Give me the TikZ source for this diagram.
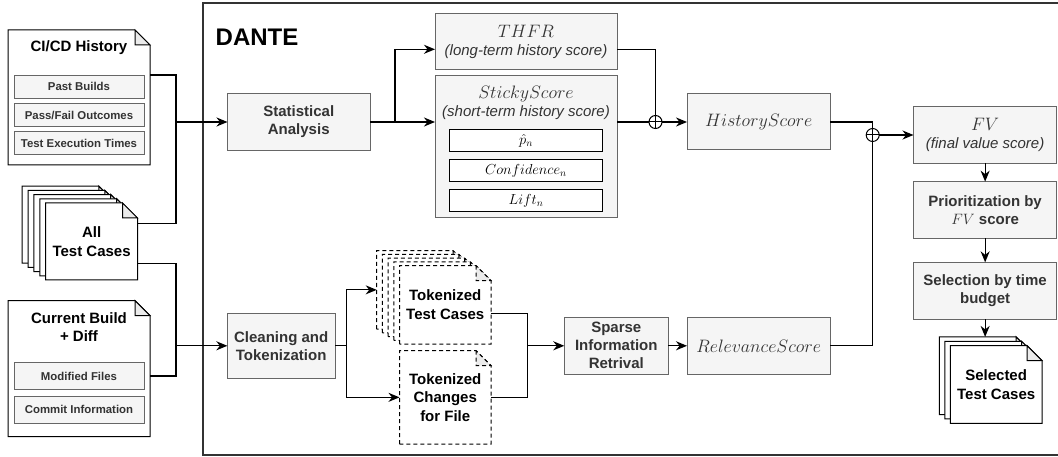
\RequirePackage{fix-cm}
\documentclass[tikz,border=0pt]{standalone}
\usepackage[no-math]{fontspec}
\setmainfont{Liberation Sans}
\usepackage{tikz}
\usetikzlibrary{arrows.meta}

\definecolor{panelgray}{HTML}{F5F5F5}
\definecolor{edgegray}{HTML}{666666}
\definecolor{inkgray}{HTML}{333333}
\definecolor{foldgray}{HTML}{EBEBEB}

% a sheet of paper with its top right corner folded over
\def\foldsz{15pt}
\makeatletter
\pgfdeclareshape{docsheet}{
  \inheritsavedanchors[from=rectangle]
  \inheritanchorborder[from=rectangle]
  \inheritanchor[from=rectangle]{center}
  \inheritanchor[from=rectangle]{north}
  \inheritanchor[from=rectangle]{south}
  \inheritanchor[from=rectangle]{east}
  \inheritanchor[from=rectangle]{west}
  \inheritanchor[from=rectangle]{north east}
  \inheritanchor[from=rectangle]{north west}
  \inheritanchor[from=rectangle]{south east}
  \inheritanchor[from=rectangle]{south west}
  \backgroundpath{
    \southwest \pgf@xa=\pgf@x \pgf@ya=\pgf@y
    \northeast \pgf@xb=\pgf@x \pgf@yb=\pgf@y
    \pgf@xc=\pgf@xb \advance\pgf@xc by -\foldsz
    \pgf@yc=\pgf@yb \advance\pgf@yc by -\foldsz
    \pgfpathmoveto{\pgfqpoint{\pgf@xa}{\pgf@ya}}
    \pgfpathlineto{\pgfqpoint{\pgf@xa}{\pgf@yb}}
    \pgfpathlineto{\pgfqpoint{\pgf@xc}{\pgf@yb}}
    \pgfpathlineto{\pgfqpoint{\pgf@xb}{\pgf@yc}}
    \pgfpathlineto{\pgfqpoint{\pgf@xb}{\pgf@ya}}
    \pgfpathclose
  }
  \beforeforegroundpath{
    \pgfscope
    \northeast \pgf@xb=\pgf@x \pgf@yb=\pgf@y
    \pgf@xc=\pgf@xb \advance\pgf@xc by -\foldsz
    \pgf@yc=\pgf@yb \advance\pgf@yc by -\foldsz
    \pgfpathmoveto{\pgfqpoint{\pgf@xc}{\pgf@yb}}
    \pgfpathlineto{\pgfqpoint{\pgf@xc}{\pgf@yc}}
    \pgfpathlineto{\pgfqpoint{\pgf@xb}{\pgf@yc}}
    \pgfpathclose
    \pgfsetfillcolor{foldgray}
    \pgfusepath{fill,stroke}
    \endpgfscope
  }
}
\makeatother

\tikzstyle{stage} = [rectangle, draw=edgegray, fill=panelgray, text=inkgray, line width=1pt, outer sep=0pt, inner sep=2pt, align=center, font=\bfseries\fontsize{15}{18}\selectfont]
\tikzstyle{score} = [stage, font=\fontsize{15}{18}\selectfont]
\tikzstyle{field} = [rectangle, draw=edgegray, fill=panelgray, text=inkgray, line width=1pt, inner sep=0pt, minimum width=130pt, font=\bfseries\fontsize{11.4}{13}\selectfont]
\tikzstyle{metric} = [rectangle, draw=black, fill=white, line width=1pt, inner sep=0pt, minimum width=153pt, minimum height=22.5pt, font=\fontsize{14.5}{17}\selectfont]
\tikzstyle{sheet} = [shape=docsheet, draw=black, fill=white, line width=1pt, outer sep=0pt, align=center, font=\bfseries\fontsize{15}{18.5}\selectfont]
\tikzstyle{tokensheet} = [sheet, dash pattern=on 4pt off 3pt]
\tikzstyle{sum} = [circle, draw=black, fill=white, line width=1pt, minimum size=13pt, inner sep=0pt, outer sep=0pt,
  path picture={\draw[line width=1pt] (path picture bounding box.north) -- (path picture bounding box.south)
    (path picture bounding box.west) -- (path picture bounding box.east);}]
\tikzstyle{wire} = [line width=1.3pt]
\tikzstyle{arrow} = [line width=1.3pt, ->, >={Stealth[length=11pt, width=9pt, inset=3.5pt]}]
\newcommand{\scoremath}[1]{{\fontsize{18}{21}\selectfont$#1$}}

\begin{document}
\begin{tikzpicture}[x=1pt, y=-1pt]
  \useasboundingbox (0,0) rectangle (1058,457);

  % DANTE frame, runs off to the right
  \draw [line width=1.5pt, draw=inkgray] (1080,3) -- (203,3) -- (203,455) -- (1080,455);
  \node (dante) [anchor=west, inner sep=0pt, font=\bfseries\fontsize{24}{28}\selectfont] at (215.5,37) {DANTE};

  % inputs
  \node (cicd) [sheet, minimum width=142pt, minimum height=135pt] at (79,97.5) {};
  \node (cicdtitle) [font=\bfseries\fontsize{15}{18}\selectfont] at (79,48) {CI/CD History};
  \node (past) [field, minimum height=23.3pt] at (79,86.7) {Past Builds};
  \node (outcomes) [field, minimum height=23.3pt, below of=past, node distance=28.3pt] {Pass/Fail Outcomes};
  \node (exectimes) [field, minimum height=23.3pt, below of=outcomes, node distance=28.3pt] {Test Execution Times};

  \node (all1) [sheet, minimum width=91.8pt, minimum height=77pt] at (68,224.7) {};
  \node (all2) [sheet, minimum width=91.8pt, minimum height=77pt, xshift=5.9pt, yshift=-4.2pt] at (all1) {};
  \node (all3) [sheet, minimum width=91.8pt, minimum height=77pt, xshift=5.9pt, yshift=-4.2pt] at (all2) {};
  \node (all4) [sheet, minimum width=91.8pt, minimum height=77pt, xshift=5.9pt, yshift=-4.2pt] at (all3) {};
  \node (allcases) [sheet, minimum width=91.8pt, minimum height=77pt, xshift=5.9pt, yshift=-4.2pt] at (all4) {All\\Test Cases};

  \node (current) [sheet, minimum width=142pt, minimum height=136pt] at (79,368.7) {};
  \node (currenttitle) [align=center, font=\bfseries\fontsize{15}{18.5}\selectfont] at (79,327.3) {Current Build\\+ Diff};
  \node (modfiles) [field, minimum height=27.3pt] at (79,376.3) {Modified Files};
  \node (commit) [field, minimum height=27.3pt, below of=modfiles, node distance=33.4pt] {Commit Information};

  % history branch
  \node (stat) [stage, minimum width=142.5pt, minimum height=56.7pt] at (298.75,122) {Statistical\\Analysis};
  \node (thfr) [score, minimum width=182pt, minimum height=56pt] at (526,42) {\scoremath{THFR}\\\textit{(long-term history score)}};
  \node (sticky) [score, minimum width=182pt, minimum height=142pt] at (526,147) {};
  \node (stickytitle) [text=inkgray, align=center, font=\fontsize{15}{18}\selectfont] at (526,103) {\scoremath{StickyScore}\\\textit{(short-term history score)}};
  \node (phat) [metric] at (526,140.5) {$\hat{p}_n$};
  \node (conf) [metric, below of=phat, node distance=30pt] {$Confidence_n$};
  \node (lift) [metric, below of=conf, node distance=30pt] {$Lift_n$};
  \node (sum1) [sum] at (655.5,122) {};
  \node (history) [score, minimum width=143.3pt, minimum height=56pt] at (758.7,122) {\scoremath{HistoryScore}};

  % relevance branch
  \node (clean) [stage, minimum width=107.7pt, minimum height=65pt] at (281.2,345.8) {Cleaning and\\Tokenization};
  \node (tok1) [tokensheet, minimum width=91.5pt, minimum height=78.3pt] at (422.45,289.85) {};
  \node (tok2) [tokensheet, minimum width=91.5pt, minimum height=78.3pt, xshift=5.7pt, yshift=-3.75pt] at (tok1) {};
  \node (tok3) [tokensheet, minimum width=91.5pt, minimum height=78.3pt, xshift=5.7pt, yshift=-3.75pt] at (tok2) {};
  \node (tok4) [tokensheet, minimum width=91.5pt, minimum height=78.3pt, xshift=5.7pt, yshift=-3.75pt] at (tok3) {};
  \node (tokcases) [tokensheet, minimum width=91.5pt, minimum height=78.3pt, xshift=5.7pt, yshift=-3.75pt] at (tok4) {Tokenized\\Test Cases};
  \node (changes) [tokensheet, minimum width=91.5pt, minimum height=93.3pt] at (445.25,397.35) {Tokenized\\Changes\\for File};
  \node (sparse) [stage, minimum width=104pt, minimum height=57pt] at (616.3,345.8) {Sparse\\Information\\Retrival};
  \node (relevance) [score, minimum width=143.3pt, minimum height=57pt] at (758.7,345.8) {\scoremath{RelevanceScore}};

  % final value and selection
  \node (sum2) [sum] at (872.7,135) {};
  \node (fv) [score, minimum width=143.3pt, minimum height=56.7pt] at (985.15,135) {\scoremath{FV}\\\textit{(final value score)}};
  \node (prio) [stage, minimum width=143.3pt, minimum height=56.7pt, below of=fv, node distance=75pt] {Prioritization by\\$FV$ score};
  \node (select) [stage, minimum width=143.3pt, minimum height=56.7pt, below of=prio, node distance=80.7pt] {Selection by time\\budget};
  \node (sel1) [sheet, minimum width=91.7pt, minimum height=77.6pt] at (985.15,375.7) {};
  \node (sel2) [sheet, minimum width=91.7pt, minimum height=77.6pt, xshift=5.5pt, yshift=-4.4pt] at (sel1) {};
  \node (selcases) [sheet, minimum width=91.7pt, minimum height=77.6pt, xshift=5.5pt, yshift=-4.4pt] at (sel2) {Selected\\Test Cases};

  \coordinate (hjoin) at (176,122);
  \coordinate (cjoin) at (176,345.8);
  \coordinate (ssplit) at (395,122);
  \coordinate (csplit) at (346.7,345.8);
  \coordinate (tjoin) at (527.7,345.8);

  \draw [wire] ([yshift=22.5pt]cicd.east) -| (hjoin);
  \draw [wire] ([yshift=18.2pt]allcases.east) -| (hjoin);
  \draw [arrow] (hjoin) -- (stat.west);
  \draw [wire] ([yshift=-21.8pt]allcases.east) -| (cjoin);
  \draw [wire] ([yshift=-7.3pt]current.east) -| (cjoin);
  \draw [arrow] (cjoin) -- (clean.west);

  \draw [wire] (stat.east) -- (ssplit);
  \draw [arrow] (ssplit) |- ([yshift=-7.3pt]thfr.west);
  \draw [arrow] (ssplit) -- ([yshift=25pt]sticky.west);
  \draw [wire] ([yshift=-7.3pt]thfr.east) -| (sum1.north);
  \draw [wire] ([yshift=25pt]sticky.east) -- (sum1.west);
  \draw [arrow] (sum1.east) -- (history.west);
  \draw [wire] (history.east) -| (sum2.north);

  \draw [wire] (clean.east) -- (csplit);
  \draw [arrow] (csplit) |- (tok1.west);
  \draw [arrow] (csplit) |- (changes.west);
  \draw [wire] ([yshift=-8.45pt]tokcases.east) -| (tjoin);
  \draw [wire] (changes.east) -| (tjoin);
  \draw [arrow] (tjoin) -- (sparse.west);
  \draw [arrow] (sparse.east) -- (relevance.west);
  \draw [wire] (relevance.east) -| (sum2.south);

  \draw [arrow] (sum2.east) -- (fv.west);
  \draw [arrow] (fv.south) -- (prio.north);
  \draw [arrow] (prio.south) -- (select.north);
  \draw [arrow] (select.south) -- (select.south |- sel1.north);
\end{tikzpicture}
\end{document}
